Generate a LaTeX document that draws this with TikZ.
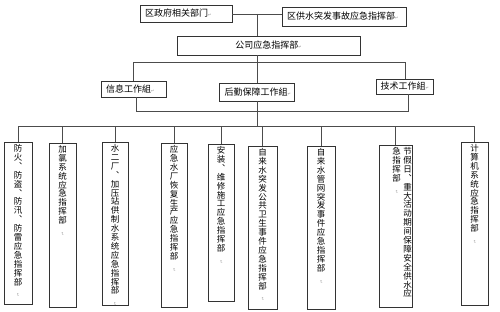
\documentclass[tikz,border=0pt]{standalone}
\usepackage{fontspec}
\setmainfont{Noto Sans CJK SC}
\newfontfamily\vertfont[RawFeature=+vert]{Noto Sans CJK SC}
\newfontfamily\symfont{DejaVu Sans}
\usetikzlibrary{positioning}

% one character per line
\ExplSyntaxOn
\NewDocumentCommand \vchars { m } { \tl_map_inline:nn {#1} { ##1 \par } }
\ExplSyntaxOff

\newcommand\pmark{{\symfont\fontsize{4}{4}\selectfont\textcolor{black!45}{↵}}}
\newcommand\vpmark{\rotatebox{-90}{\pmark}}
\newcommand\vstrip[2][\vpmark]{\parbox[t]{9pt}{\centering
    \vertfont\fontsize{8.5}{8.9}\selectfont\vchars{#2}#1}}
\newcommand\vcol[3]{\parbox[t][#2][t]{#1}{\vspace*{2pt}\centering\vstrip{#3}}}

\begin{document}
\begin{tikzpicture}[
    x=1pt, y=-1pt,
    hbox/.style={draw=black!80, line width=0.8pt, inner xsep=5pt,
                 inner ysep=0pt, align=left,
                 font=\fontsize{9}{10}\selectfont},
    colbox/.style={draw=black!80, line width=0.8pt, inner sep=0pt,
                   anchor=north},
    link/.style={draw=black!70, line width=0.7pt}
  ]
  \useasboundingbox (0,0) rectangle (500,312);

  % command level
  \node[hbox, text width=82pt, minimum height=17pt] (gov) at (186,13.5)
    {区政府相关部门\pmark};
  \node[hbox, text width=114pt, minimum height=19pt] (dist) at (344,16.5)
    {区供水突发事故应急指挥部\pmark};
  \node[hbox, text width=173pt, minimum height=19pt, align=center]
    (corp) at (268.5,45.5) {公司应急指挥部\pmark};

  % working groups
  \node[hbox, text width=55pt, minimum height=16pt] (info) at (133.5,89)
    {信息工作組\pmark};
  \node[hbox, text width=65pt, minimum height=18pt] (logi) at (257,92)
    {后勤保障工作組\pmark};
  \node[hbox, text width=49pt, minimum height=15pt, inner xsep=4pt]
    (tech) at (405,86.5) {技术工作組\pmark};

  % sub commands
  \node[colbox] (b1) at (18,142)
    {\vcol{28pt}{162pt}{防火、防盗、防汛、防雷应急指挥部}};
  \node[colbox] (b2) at (62.5,143) {\vcol{27pt}{164pt}{加氯系统应急指挥部}};
  \node[colbox] (b3) at (115,142)
    {\vcol{26pt}{163pt}{水二厂、加压站供制水系统应急指挥部}};
  \node[colbox] (b4) at (174,143)
    {\vcol{26pt}{164pt}{应急水厂恢复生产应急指挥部}};
  \node[colbox] (b5) at (221,144)
    {\vcol{26pt}{157pt}{安装、维修施工应急指挥部}};
  \node[colbox] (b6) at (262.5,146)
    {\vcol{29pt}{163pt}{自来水突发公共卫生事件应急指挥部}};
  \node[colbox] (b7) at (321,146)
    {\vcol{28pt}{163pt}{自来水管网突发事件应急指挥部}};
  \node[colbox] (b8) at (395.5,145)
    {\parbox[t][162pt][t]{33pt}{\vspace*{2pt}\raggedleft
      \vstrip{急指挥部}\hspace{2pt}\vstrip[]{节假日、重大活动期间保障安全供水应}}};
  \node[colbox] (b9) at (474.5,142) {\vcol{27pt}{163pt}{计算机系统应急指挥部}};

  \coordinate (top) at (257,14);
  \coordinate (bus1) at (257,62.7);
  \coordinate (bus2) at (257,111);
  \coordinate (bus3) at (257,126);

  \draw[link] (gov.east |- top) -- (dist.west |- top);
  \draw[link] (top) -- (top |- corp.north);
  \draw[link] (corp.south -| logi.north) -- (logi.north);
  \draw[link] (info.north) -- (info.north |- bus1) -- (tech.north |- bus1)
    -- (tech.north);
  \draw[link] ([xshift=3pt]info.south) -- ([xshift=3pt]info.south |- bus2)
    -- ([xshift=3pt]tech.south |- bus2) -- ([xshift=3pt]tech.south);
  \draw[link] (logi.south) -- (bus3);
  \draw[link] (b1.north |- bus3) -- (b9.north |- bus3);
  \foreach \i in {1,...,9}
    \draw[link] (b\i.north) -- (b\i.north |- bus3);
\end{tikzpicture}
\end{document}
